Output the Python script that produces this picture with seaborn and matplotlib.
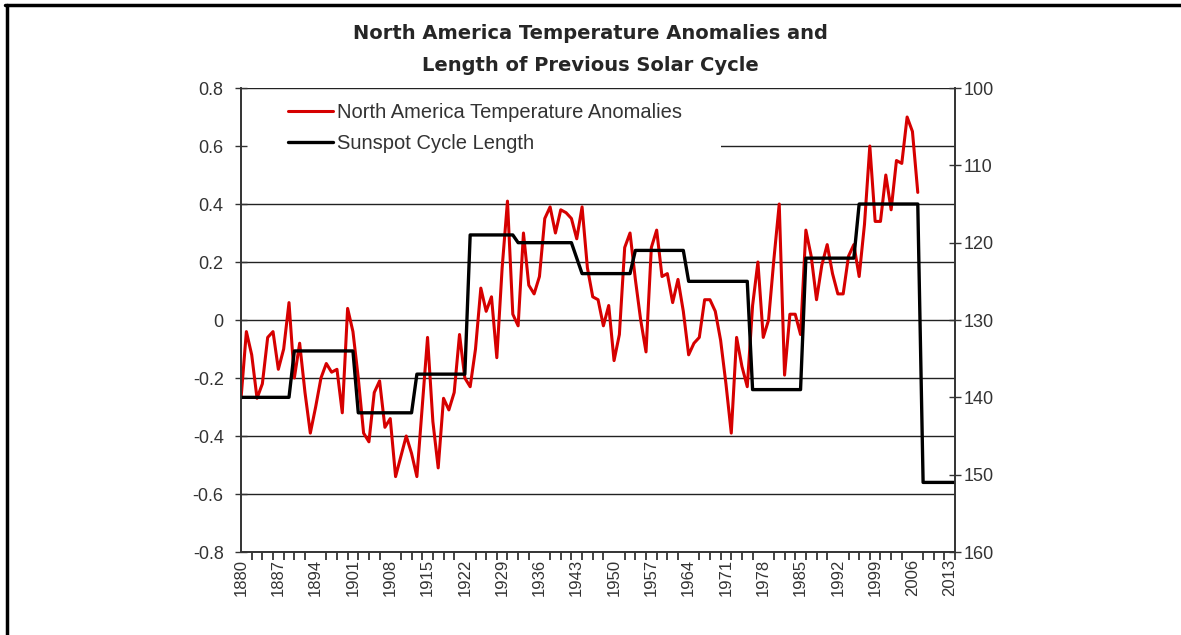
import numpy as np
import pandas as pd
import matplotlib
matplotlib.use("Agg")
import matplotlib.pyplot as plt
import seaborn as sns
from matplotlib.lines import Line2D
from matplotlib.patches import Rectangle
from matplotlib.ticker import MultipleLocator, FixedLocator

# North America temperature anomalies (deg C), yearly 1880-2007
temp_years = list(range(1880, 2008))
temp_anom = [
    -0.27, -0.04, -0.12, -0.27, -0.22, -0.06, -0.04, -0.17, -0.10, 0.06,
    -0.20, -0.08, -0.25, -0.39, -0.30, -0.20, -0.15, -0.18, -0.17, -0.32,
    0.04, -0.04, -0.20, -0.39, -0.42, -0.25, -0.21, -0.37, -0.34, -0.54,
    -0.47, -0.40, -0.46, -0.54, -0.30, -0.06, -0.35, -0.51, -0.27, -0.31,
    -0.25, -0.05, -0.20, -0.23, -0.10, 0.11, 0.03, 0.08, -0.13, 0.18,
    0.41, 0.02, -0.02, 0.30, 0.12, 0.09, 0.15, 0.35, 0.39, 0.30,
    0.38, 0.37, 0.35, 0.28, 0.39, 0.18, 0.08, 0.07, -0.02, 0.05,
    -0.14, -0.05, 0.25, 0.30, 0.14, 0.00, -0.11, 0.25, 0.31, 0.15,
    0.16, 0.06, 0.14, 0.03, -0.12, -0.08, -0.06, 0.07, 0.07, 0.03,
    -0.07, -0.22, -0.39, -0.06, -0.16, -0.23, 0.05, 0.20, -0.06, 0.00,
    0.21, 0.40, -0.19, 0.02, 0.02, -0.05, 0.31, 0.22, 0.07, 0.19,
    0.26, 0.16, 0.09, 0.09, 0.22, 0.26, 0.15, 0.33, 0.60, 0.34,
    0.34, 0.50, 0.38, 0.55, 0.54, 0.70, 0.65, 0.44,
]

# Length of previous solar cycle (months), yearly 1880-2014
cycle_years = list(range(1880, 2015))
cycle_len = [
    140, 140, 140, 140, 140, 140, 140, 140, 140, 140,
    134, 134, 134, 134, 134, 134, 134, 134, 134, 134,
    134, 134, 142, 142, 142, 142, 142, 142, 142, 142,
    142, 142, 142, 137, 137, 137, 137, 137, 137, 137,
    137, 137, 137, 119, 119, 119, 119, 119, 119, 119,
    119, 119, 120, 120, 120, 120, 120, 120, 120, 120,
    120, 120, 120, 122, 124, 124, 124, 124, 124, 124,
    124, 124, 124, 124, 121, 121, 121, 121, 121, 121,
    121, 121, 121, 121, 125, 125, 125, 125, 125, 125,
    125, 125, 125, 125, 125, 125, 139, 139, 139, 139,
    139, 139, 139, 139, 139, 139, 122, 122, 122, 122,
    122, 122, 122, 122, 122, 122, 115, 115, 115, 115,
    115, 115, 115, 115, 115, 115, 115, 115, 151, 151,
    151, 151, 151, 151, 151,
]

year_labels = list(range(1880, 2014, 7))
left_ticks = [-0.8, -0.6, -0.4, -0.2, 0, 0.2, 0.4, 0.6, 0.8]
right_ticks = [100, 110, 120, 130, 140, 150, 160]

temp_df = pd.DataFrame({"year": temp_years, "anom": temp_anom})
cycle_df = pd.DataFrame({"year": cycle_years, "length": cycle_len})

sns.set_style("white")
plt.rcParams["font.family"] = ["Liberation Sans", "DejaVu Sans"]

fig = plt.figure(figsize=(11.81, 6.35), dpi=100)
ax = fig.add_axes([0.2041, 0.1307, 0.6046, 0.7307])
ax2 = ax.twinx()

red = "#d60000"
sns.lineplot(data=temp_df, x="year", y="anom", ax=ax, color=red, linewidth=2.2)
sns.lineplot(data=cycle_df, x="year", y="length", ax=ax2, color="black", linewidth=2.4)

ax.set_xlim(1880, 2014)
ax.set_ylim(-0.8, 0.8)
ax2.set_ylim(160, 100)

ax.set_xlabel("")
ax.set_ylabel("")
ax2.set_ylabel("")

# gridlines from the left axis
for v in left_ticks:
    ax.axhline(v, color="#222222", linewidth=1.0, zorder=0)

# white legend area hides the gridline behind the legend
ax.add_patch(Rectangle((0.002, 0.84), 0.67, 0.15, transform=ax.transAxes,
                       facecolor="white", edgecolor="none", zorder=0.5))

ax.yaxis.set_major_locator(FixedLocator(left_ticks))
ax.set_yticklabels(["-0.8", "-0.6", "-0.4", "-0.2", "0", "0.2", "0.4", "0.6", "0.8"])
ax2.yaxis.set_major_locator(FixedLocator(right_ticks))
ax2.set_yticklabels([str(t) for t in right_ticks])

ax.xaxis.set_major_locator(FixedLocator(year_labels))
ax.set_xticklabels([str(y) for y in year_labels], rotation=90)
ax.xaxis.set_minor_locator(MultipleLocator(2))

ax.tick_params(axis="x", which="major", length=0, pad=5, labelsize=12, colors="#333333")
ax.tick_params(axis="x", which="minor", bottom=True, length=6, width=1.2, direction="out", color="#222222")
ax.tick_params(axis="y", which="major", left=True, length=9, width=1.0, direction="inout",
               labelsize=13, colors="#333333", pad=8)
ax2.tick_params(axis="y", which="major", right=True, length=9, width=1.0, direction="inout",
                labelsize=13, colors="#333333", pad=2)

for a in (ax, ax2):
    for s in a.spines.values():
        s.set_color("#333333")
        s.set_linewidth(1.2)
    a.spines["top"].set_visible(False)

handles = [Line2D([], [], color=red, linewidth=2.2),
           Line2D([], [], color="black", linewidth=2.4)]
leg = ax2.legend(handles, ["North America Temperature Anomalies", "Sunspot Cycle Length"],
                 loc="upper left", bbox_to_anchor=(0.045, 1.0), frameon=False, fontsize=14.5,
                 handlelength=2.2, handletextpad=0.2, labelspacing=0.6, borderpad=0.75,
                 borderaxespad=0.0)
for t in leg.get_texts():
    t.set_color("#333333")

fig.text(0.5, 0.922, "North America Temperature Anomalies and\nLength of Previous Solar Cycle",
         ha="center", va="center", fontsize=14, fontweight="bold", linespacing=1.85,
         family=["Liberation Sans Narrow", "DejaVu Sans"])

# outer frame (top and left edges)
fig.add_artist(Line2D([0.004, 1.0], [0.992, 0.992], color="black", linewidth=2.5,
                      transform=fig.transFigure))
fig.add_artist(Line2D([0.006, 0.006], [0.0, 0.992], color="black", linewidth=2.5,
                      transform=fig.transFigure))

fig.savefig("out.png", dpi=100)
plt.close(fig)
